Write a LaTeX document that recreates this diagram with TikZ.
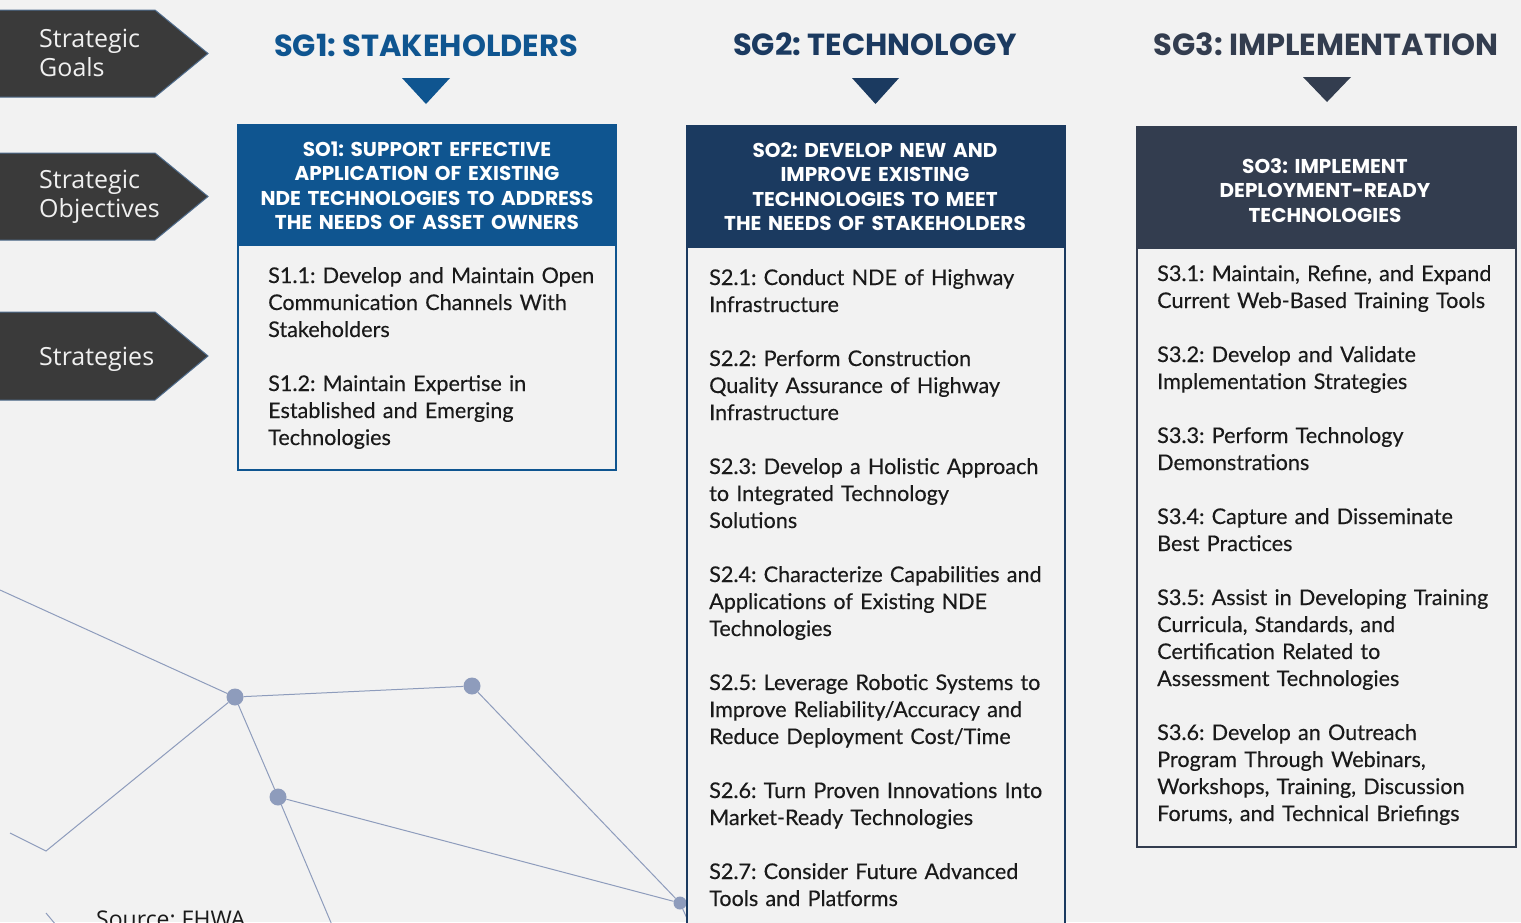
\documentclass[tikz,border=0pt]{standalone}
\usepackage{fontspec}
\setmainfont{Lato}
\newfontfamily\bodyfont{Lato}[FakeBold=0.25]
\newfontfamily\labfont{Open Sans}
\newfontfamily\headfont{Poppins}
\frenchspacing
\definecolor{bg}{HTML}{F2F2F2}
\definecolor{arrowgray}{HTML}{3A3A3A}
\definecolor{arrowedge}{HTML}{4F6C8C}
\definecolor{blueA}{HTML}{0F5590}
\definecolor{navyB}{HTML}{1B3A60}
\definecolor{slateC}{HTML}{333D4F}
\definecolor{net}{HTML}{8E9CBC}
\definecolor{ink}{HTML}{1A1A1A}
\definecolor{labwhite}{HTML}{F0F0F0}
\tikzset{
  lab/.style={font=\labfont\fontsize{25}{29}\selectfont, text=labwhite, anchor=base west, inner sep=0pt, align=left, text width=170pt},
  pointer/.style={fill=arrowgray, draw=arrowedge, line width=1pt},
  sghead/.style={font=\headfont\bfseries\fontsize{30.5}{34}\selectfont, anchor=base, inner sep=0pt},
  sohead/.style={font=\headfont\bfseries\fontsize{20}{24.6}\selectfont\frenchspacing, text=white, anchor=base, inner sep=0pt, align=center, text width=370pt},
  strat/.style={font=\bodyfont\fontsize{21.6}{27}\selectfont\frenchspacing, text=ink, anchor=base west, inner sep=0pt, align=left, text width=380pt},
  netline/.style={draw=net, line width=1pt},
  netdot/.style={circle, fill=net, minimum size=17pt, inner sep=0pt},
  smalldot/.style={circle, fill=net, minimum size=13pt, inner sep=0pt},
}
\begin{document}
\begin{tikzpicture}[x=1pt,y=-1pt]
\path[fill=bg] (0,0) rectangle (1521,922);
\useasboundingbox (0,0) rectangle (1521,922);
\clip (0,0) rectangle (1521,922);

% network
\node[netdot] (A) at (235,697) {};
\node[netdot] (B) at (472,686) {};
\node[netdot] (C) at (278,797) {};
\node[smalldot] (D) at (680,903) {};
\coordinate (L0) at (0,590);
\coordinate (E) at (46,851);
\coordinate (E2) at (10,833);
\coordinate (F) at (332,925);
\coordinate (G) at (720,925);
\coordinate (G2) at (690,925);
\coordinate (H1) at (46,913);
\coordinate (H2) at (56,925);
\draw[netline] (L0) -- (A);
\draw[netline] (A) -- (B);
\draw[netline] (A) -- (E) -- (E2);
\draw[netline] (A) -- (C);
\draw[netline] (C) -- (F);
\draw[netline] (C) -- (D);
\draw[netline] (B) -- (D);
\draw[netline] (D) -- (G);
\draw[netline] (D) -- (G2);
\draw[netline] (H1) -- (H2);

% left pointers
\draw[pointer] (-2,10) -- (155,10) -- (208,53.5) -- (155,97) -- (-2,97) -- cycle;
\node[lab] (goals) at (39,47) {Strategic\\Goals};
\draw[pointer] (-2,153) -- (155,153) -- (208,196.5) -- (155,240) -- (-2,240) -- cycle;
\node[lab] (objs) at (39,188) {Strategic\\Objectives};
\draw[pointer] (-2,312) -- (155,312) -- (208,356) -- (155,400) -- (-2,400) -- cycle;
\node[lab] (strats) at (39,365) {Strategies};

% goal headers
\node[sghead, text=blueA] (sg1) at (426,56) {SG1: STAKEHOLDERS};
\node[sghead, text=navyB] (sg2) at (875,55) {SG2: TECHNOLOGY};
\node[sghead, text=slateC] (sg3) at (1326,55) {SG3: IMPLEMENTATION};
\fill[blueA] (402,78) -- (450,78) -- (426,104) -- cycle;
\fill[navyB] (852,78) -- (899,78) -- (875.5,104) -- cycle;
\fill[slateC] (1303,77) -- (1351,77) -- (1327,102) -- cycle;

% column boxes
\draw[blueA, line width=2pt, fill=bg] (238,125) rectangle (616,470);
\fill[blueA] (238,125) rectangle (616,246);
\draw[navyB, line width=2.5pt, fill=bg] (687,126) rectangle (1065,960);
\fill[navyB] (687,126) rectangle (1065,248);
\draw[slateC, line width=2.5pt, fill=bg] (1137,127) rectangle (1516,847);
\fill[slateC] (1137,127) rectangle (1516,249);

\node[sohead] (so1) at (427,156) {SO1: SUPPORT EFFECTIVE\\APPLICATION OF EXISTING\\NDE TECHNOLOGIES TO ADDRESS\\THE NEEDS OF ASSET OWNERS};
\node[sohead] (so2) at (875,157) {SO2: DEVELOP NEW AND\\IMPROVE EXISTING\\TECHNOLOGIES TO MEET\\THE NEEDS OF STAKEHOLDERS};
\node[sohead] (so3) at (1325,173) {SO3: IMPLEMENT\\DEPLOYMENT-READY\\TECHNOLOGIES};

% strategies
\node[strat] (s1) at (268,283) {S1.1: Develop and Maintain Open\\Communication Channels With\\Stakeholders\\[27pt]S1.2: Maintain Expertise in\\Established and Emerging\\Technologies};
\node[strat] (s2) at (709,285) {S2.1: Conduct NDE of Highway\\Infrastructure\\[27pt]S2.2: Perform Construction\\Quality Assurance of Highway\\Infrastructure\\[27pt]S2.3: Develop a Holistic Approach\\to Integrated Technology\\Solutions\\[27pt]S2.4: Characterize Capabilities and\\Applications of Existing NDE\\Technologies\\[27pt]S2.5: Leverage Robotic Systems to\\Improve Reliability/Accuracy and\\Reduce Deployment Cost/Time\\[27pt]S2.6: Turn Proven Innovations Into\\Market-Ready Technologies\\[27pt]S2.7: Consider Future Advanced\\Tools and Platforms};
\node[strat] (s3) at (1157,281) {S3.1: Maintain, Refine, and Expand\\Current Web-Based Training Tools\\[27pt]S3.2: Develop and Validate\\Implementation Strategies\\[27pt]S3.3: Perform Technology\\Demonstrations\\[27pt]S3.4: Capture and Disseminate\\Best Practices\\[27pt]S3.5: Assist in Developing Training\\Curricula, Standards, and\\Certification Related to\\Assessment Technologies\\[27pt]S3.6: Develop an Outreach\\Program Through Webinars,\\Workshops, Training, Discussion\\Forums, and Technical Briefings};

\node[font=\labfont\fontsize{23}{27}\selectfont, text=ink, anchor=base west, inner sep=0pt] (src) at (96,927) {Source: FHWA};
\end{tikzpicture}
\end{document}
